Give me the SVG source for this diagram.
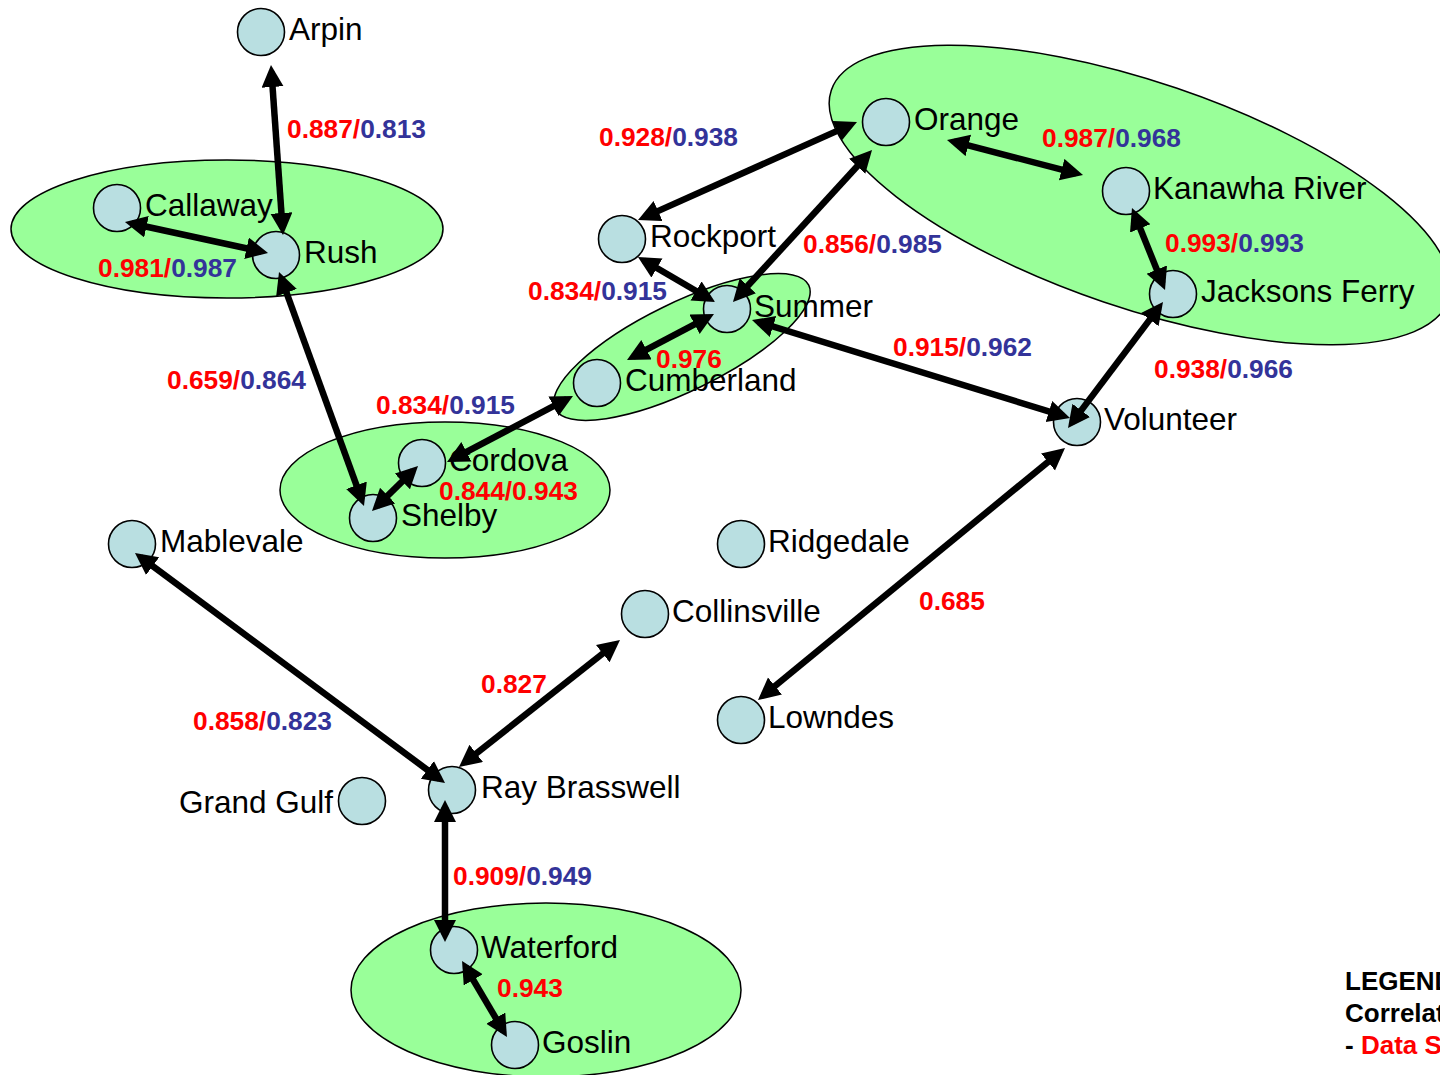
<svg xmlns="http://www.w3.org/2000/svg" width="1440" height="1075" viewBox="0 0 1440 1075">
<style>
.grp{fill:#99FF99;stroke:#000;stroke-width:1.5}
.nd{fill:#B9DFE1;stroke:#000;stroke-width:1.6}
.nl{font-family:"Liberation Sans",Arial,sans-serif;font-size:31.5px;fill:#000}
.el{font-family:"Liberation Sans",Arial,sans-serif;font-size:26.3px;font-weight:bold}
.r{fill:#FF0000}
.b{fill:#333399}
.cn line{stroke:#000;stroke-width:6.5;marker-start:url(#ah);marker-end:url(#ah)}
.lg{font-family:"Liberation Sans",Arial,sans-serif;font-size:26px;font-weight:bold;fill:#000}
</style>
<defs>
<marker id="ah" markerUnits="userSpaceOnUse" markerWidth="24" markerHeight="24" refX="15" refY="11" orient="auto-start-reverse">
<path d="M0,0 L22,11 L0,22 z" fill="#000"/>
</marker>
</defs>
<rect width="1440" height="1075" fill="#fff"/>
<g id="groups">
<ellipse id="g-callaway-rush" class="grp" cx="227" cy="229" rx="216" ry="69"/>
<ellipse id="g-cordova-shelby" class="grp" cx="445" cy="490" rx="165" ry="68"/>
<ellipse id="g-summer-cumberland" class="grp" cx="682" cy="347" rx="141" ry="44" transform="rotate(-26 682 347)"/>
<ellipse id="g-orange-kanawha-jacksons" class="grp" cx="1140" cy="195" rx="326" ry="113" transform="rotate(18.75 1140 195)"/>
<ellipse id="g-waterford-goslin" class="grp" cx="546" cy="990" rx="195" ry="87"/>
</g>
<g id="nodes">
<g id="n-arpin"><circle class="nd" cx="261" cy="32" r="23.5"/><text class="nl" x="289" y="40">Arpin</text></g>
<g id="n-callaway"><circle class="nd" cx="117" cy="208" r="23.5"/><text class="nl" x="145" y="216">Callaway</text></g>
<g id="n-rush"><circle class="nd" cx="276" cy="255" r="23.5"/><text class="nl" x="304" y="263">Rush</text></g>
<g id="n-rockport"><circle class="nd" cx="622" cy="239" r="23.5"/><text class="nl" x="650" y="247">Rockport</text></g>
<g id="n-orange"><circle class="nd" cx="886" cy="122" r="23.5"/><text class="nl" x="914" y="130">Orange</text></g>
<g id="n-kanawha"><circle class="nd" cx="1126" cy="191" r="23.5"/><text class="nl" x="1153" y="199">Kanawha River</text></g>
<g id="n-jacksons"><circle class="nd" cx="1173" cy="294" r="23.5"/><text class="nl" x="1201" y="302">Jacksons Ferry</text></g>
<g id="n-summer"><circle class="nd" cx="727" cy="309" r="23.5"/><text class="nl" x="754" y="317">Summer</text></g>
<g id="n-cumberland"><circle class="nd" cx="597" cy="383" r="23.5"/><text class="nl" x="625" y="391">Cumberland</text></g>
<g id="n-volunteer"><circle class="nd" cx="1077" cy="422" r="23.5"/><text class="nl" x="1104" y="430">Volunteer</text></g>
<g id="n-cordova"><circle class="nd" cx="422" cy="463" r="23.5"/><text class="nl" x="449" y="471">Cordova</text></g>
<g id="n-shelby"><circle class="nd" cx="373" cy="518" r="23.5"/><text class="nl" x="401" y="526">Shelby</text></g>
<g id="n-mablevale"><circle class="nd" cx="132" cy="544" r="23.5"/><text class="nl" x="160" y="552">Mablevale</text></g>
<g id="n-ridgedale"><circle class="nd" cx="741" cy="544" r="23.5"/><text class="nl" x="768" y="552">Ridgedale</text></g>
<g id="n-collinsville"><circle class="nd" cx="645" cy="614" r="23.5"/><text class="nl" x="672" y="622">Collinsville</text></g>
<g id="n-lowndes"><circle class="nd" cx="741" cy="720" r="23.5"/><text class="nl" x="768" y="728">Lowndes</text></g>
<g id="n-grandgulf"><circle class="nd" cx="362" cy="801" r="23.5"/><text class="nl" x="333" y="813" text-anchor="end">Grand Gulf</text></g>
<g id="n-raybrasswell"><circle class="nd" cx="452" cy="790" r="23.5"/><text class="nl" x="481" y="798">Ray Brasswell</text></g>
<g id="n-waterford"><circle class="nd" cx="454" cy="950" r="23.5"/><text class="nl" x="481" y="958">Waterford</text></g>
<g id="n-goslin"><circle class="nd" cx="515" cy="1045" r="23.5"/><text class="nl" x="542" y="1053">Goslin</text></g>
</g>
<g id="connectors" class="cn">
<line x1="271.5" y1="72" x2="282.5" y2="228"/>
<line x1="131.8" y1="223.5" x2="261.2" y2="251.5"/>
<line x1="281.4" y1="278.6" x2="361.6" y2="499.4"/>
<line x1="644.4" y1="217.1" x2="850.6" y2="124.9"/>
<line x1="644" y1="260.5" x2="709" y2="298.5"/>
<line x1="867.3" y1="155.2" x2="737.7" y2="296.8"/>
<line x1="707.8" y1="317.3" x2="633.2" y2="356.7"/>
<line x1="758.7" y1="322.1" x2="1063.3" y2="415.9"/>
<line x1="953.8" y1="141.7" x2="1076.2" y2="173.3"/>
<line x1="1134.6" y1="214.5" x2="1162.4" y2="283.5"/>
<line x1="1158.8" y1="307.6" x2="1072.2" y2="422.4"/>
<line x1="453.2" y1="458.8" x2="566.8" y2="399.2"/>
<line x1="413" y1="470.9" x2="377" y2="506.1"/>
<line x1="140.6" y1="557.2" x2="439.4" y2="778.8"/>
<line x1="614.5" y1="644.3" x2="464.5" y2="762.7"/>
<line x1="1059.6" y1="452.4" x2="763.4" y2="695.6"/>
<line x1="445" y1="807" x2="445" y2="935"/>
<line x1="465.6" y1="967" x2="503.4" y2="1031"/>
</g>
<g id="edge-labels">
<text class="el" x="287" y="138"><tspan class="r">0.887/</tspan><tspan class="b">0.813</tspan></text>
<text class="el" x="98" y="277"><tspan class="r">0.981/</tspan><tspan class="b">0.987</tspan></text>
<text class="el" x="167" y="389"><tspan class="r">0.659/</tspan><tspan class="b">0.864</tspan></text>
<text class="el" x="376" y="414"><tspan class="r">0.834/</tspan><tspan class="b">0.915</tspan></text>
<text class="el r" x="439" y="500">0.844/0.943</text>
<text class="el" x="599" y="146"><tspan class="r">0.928/</tspan><tspan class="b">0.938</tspan></text>
<text class="el" x="528" y="300"><tspan class="r">0.834/</tspan><tspan class="b">0.915</tspan></text>
<text class="el" x="803" y="253"><tspan class="r">0.856/</tspan><tspan class="b">0.985</tspan></text>
<text class="el r" x="656" y="368">0.976</text>
<text class="el" x="893" y="356"><tspan class="r">0.915/</tspan><tspan class="b">0.962</tspan></text>
<text class="el" x="1042" y="147"><tspan class="r">0.987/</tspan><tspan class="b">0.968</tspan></text>
<text class="el" x="1165" y="252"><tspan class="r">0.993/</tspan><tspan class="b">0.993</tspan></text>
<text class="el" x="1154" y="378"><tspan class="r">0.938/</tspan><tspan class="b">0.966</tspan></text>
<text class="el r" x="919" y="610">0.685</text>
<text class="el r" x="481" y="693">0.827</text>
<text class="el" x="193" y="730"><tspan class="r">0.858/</tspan><tspan class="b">0.823</tspan></text>
<text class="el" x="453" y="885"><tspan class="r">0.909/</tspan><tspan class="b">0.949</tspan></text>
<text class="el r" x="497" y="997">0.943</text>
</g>
<g id="legend">
<text class="lg" x="1345" y="990">LEGEND</text>
<text class="lg" x="1345" y="1022">Correlat</text>
<text class="lg" x="1345" y="1054">- <tspan class="r">Data S</tspan></text>
</g>
</svg>
